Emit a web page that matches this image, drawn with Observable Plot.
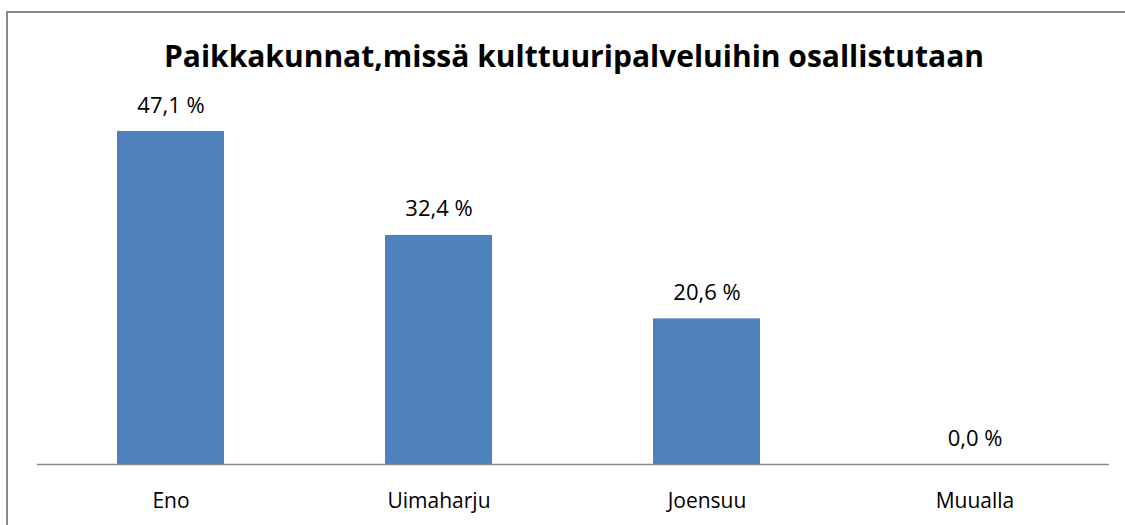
<!DOCTYPE html>
<html>
<head>
<meta charset="utf-8">
<script src="https://cdn.jsdelivr.net/npm/d3@7"></script>
<script src="https://cdn.jsdelivr.net/npm/@observablehq/plot@0.6"></script>
<style>
  html, body { margin: 0; padding: 0; background: #fff; }
  #wrap { position: relative; width: 1125px; height: 525px; overflow: hidden; }
  #frame { position: absolute; left: 6px; top: 11px; right: -10px; bottom: -10px;
           border-top: 2px solid #898989; border-left: 2px solid #898989; box-sizing: border-box; }
  #title { position: absolute; left: 0; top: 0; width: 1148px; height: 85px; text-align: center;
           font-family: "Open Sans", sans-serif; font-weight: bold; font-size: 30px; color: #000;
           line-height: 85px; padding-top: 13px; box-sizing: border-box; }
  #chart { position: absolute; left: 0; top: 85px; }
</style>
</head>
<body>
<div id="wrap">
  <div id="frame"></div>
  <div id="title">Paikkakunnat,missä kulttuuripalveluihin osallistutaan</div>
  <div id="chart"></div>
</div>
<script>
const categories = ["Eno", "Uimaharju", "Joensuu", "Muualla"];
const values = [47.1, 32.4, 20.6, 0.0];
const labels = ["47,1 %", "32,4 %", "20,6 %", "0,0 %"];

const data = categories.map((c, i) => ({cat: c, value: values[i], label: labels[i]}));

const chart = Plot.plot({
  width: 1125,
  height: 440,
  marginTop: 25.5,
  marginBottom: 61,
  marginLeft: 37,
  marginRight: 16,
  style: {fontFamily: "Open Sans, sans-serif", background: "transparent"},
  x: {domain: categories, paddingInner: 0.6, paddingOuter: 0.3, axis: null},
  y: {domain: [0, 50], axis: null},
  marks: [
    Plot.barY(data, {x: "cat", y: "value", fill: "#4F81BD"}),
    Plot.ruleY([0], {stroke: "#898989", strokeWidth: 1.5}),
    Plot.text(data, {x: "cat", y: "value", text: "label", lineAnchor: "bottom", dy: -19,
      fontSize: 22, fill: "#000"}),
    Plot.text(data, {x: "cat", text: "cat", frameAnchor: "bottom", lineAnchor: "bottom", dy: 43,
      fontSize: 21, fill: "#000"})
  ]
});
document.getElementById("chart").appendChild(chart);
</script>
</body>
</html>
